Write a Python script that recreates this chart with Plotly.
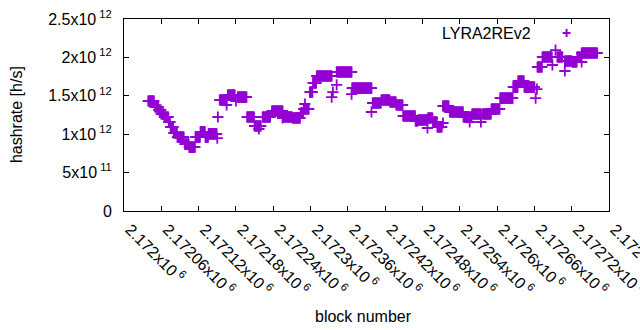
import numpy as np
import plotly.graph_objects as go

# Runs of consecutive blocks sharing the same estimated hashrate
run_start = [2172039, 2172050, 2172056, 2172060, 2172065, 2172072, 2172075, 2172080, 2172086, 2172098,
             2172105, 2172115, 2172123, 2172131, 2172136, 2172150, 2172151, 2172154, 2172165, 2172167,
             2172180, 2172183, 2172198, 2172210, 2172217, 2172223, 2172238, 2172255, 2172256, 2172271,
             2172284, 2172289, 2172291, 2172299, 2172304, 2172310, 2172336, 2172334, 2172342, 2172342,
             2172366, 2172367, 2172398, 2172400, 2172414, 2172428, 2172438, 2172449, 2172469, 2172473,
             2172488, 2172489, 2172497, 2172504, 2172513, 2172513, 2172524, 2172546, 2172556, 2172560,
             2172574, 2172577, 2172591, 2172605, 2172626, 2172634, 2172644, 2172662, 2172664, 2172665,
             2172673, 2172689, 2172694, 2172697, 2172709, 2172709, 2172721, 2172729, 2172736, 2172736,
             2172746]
run_end = [2172048, 2172055, 2172059, 2172064, 2172071, 2172074, 2172079, 2172085, 2172096, 2172104,
           2172114, 2172122, 2172130, 2172135, 2172149, 2172150, 2172151, 2172165, 2172165, 2172178,
           2172180, 2172197, 2172209, 2172220, 2172217, 2172235, 2172255, 2172255, 2172270, 2172283,
           2172288, 2172297, 2172291, 2172303, 2172309, 2172334, 2172336, 2172334, 2172342, 2172366,
           2172366, 2172398, 2172398, 2172413, 2172427, 2172437, 2172448, 2172468, 2172472, 2172488,
           2172488, 2172496, 2172503, 2172511, 2172513, 2172522, 2172545, 2172559, 2172556, 2172574,
           2172574, 2172590, 2172604, 2172625, 2172633, 2172643, 2172660, 2172662, 2172664, 2172672,
           2172688, 2172689, 2172694, 2172705, 2172709, 2172720, 2172728, 2172734, 2172736, 2172745,
           2172761]
run_value = [1.432, 1.354, 1.315, 1.263, 1.224, 1.159, 1.094, 1.016, 0.963, 0.872,
             0.833, 0.963, 1.029, 0.963, 1.003, 0.950, 1.224, 1.445, 1.380, 1.510,
             1.432, 1.484, 1.224, 1.107, 1.068, 1.224, 1.302, 1.211, 1.224, 1.211,
             1.276, 1.328, 1.393, 1.549, 1.667, 1.758, 1.549, 1.484, 1.641, 1.810,
             1.523, 1.601, 1.289, 1.406, 1.445, 1.419, 1.380, 1.237, 1.172, 1.185,
             1.081, 1.211, 1.159, 1.094, 1.146, 1.367, 1.289, 1.224, 1.159, 1.263,
             1.159, 1.263, 1.328, 1.471, 1.614, 1.693, 1.614, 1.471, 1.588, 1.875,
             2.005, 1.901, 2.096, 2.005, 1.823, 1.953, 1.940, 2.005, 1.940, 2.057,
             2.057]  # x10^12 h/s

x_tick_vals = [2172000, 2172060, 2172120, 2172180, 2172240, 2172300, 2172360,
               2172420, 2172480, 2172540, 2172600, 2172660, 2172720, 2172780]
x_tick_text = ["2.172x10<sup> 6</sup>", "2.17206x10<sup> 6</sup>", "2.17212x10<sup> 6</sup>",
               "2.17218x10<sup> 6</sup>", "2.17224x10<sup> 6</sup>", "2.1723x10<sup> 6</sup>",
               "2.17236x10<sup> 6</sup>", "2.17242x10<sup> 6</sup>", "2.17248x10<sup> 6</sup>",
               "2.17254x10<sup> 6</sup>", "2.1726x10<sup> 6</sup>", "2.17266x10<sup> 6</sup>",
               "2.17272x10<sup> 6</sup>", "2.17278x10<sup> 6</sup>"]
y_tick_vals = [0, 5e11, 1e12, 1.5e12, 2e12, 2.5e12]
y_tick_text = ["0", "5x10<sup> 11</sup>", "1x10<sup> 12</sup>", "1.5x10<sup> 12</sup>",
               "2x10<sup> 12</sup>", "2.5x10<sup> 12</sup>"]
series_name = "LYRA2REv2"

blocks = np.concatenate([np.arange(s, e + 1) for s, e in zip(run_start, run_end)])
rates = np.concatenate([np.full(e - s + 1, v * 1e12) for s, e, v in zip(run_start, run_end, run_value)])

COLOR = "#9400D3"
FONT = "Liberation Sans, Arial, sans-serif"

fig = go.Figure()
fig.add_trace(go.Scatter(
    x=blocks, y=rates, mode="markers", name=series_name, showlegend=False,
    marker=dict(symbol="cross-thin", size=8, line=dict(color=COLOR, width=1.8), color=COLOR),
))

axis_common = dict(showline=True, linecolor="black", linewidth=1, mirror="ticks",
                   ticks="inside", ticklen=5, tickwidth=1, tickcolor="black",
                   showgrid=False, zeroline=False, automargin=False,
                   tickfont=dict(family=FONT, size=16, color="black"))

fig.update_xaxes(range=[2172000, 2172780], tickmode="array", tickvals=x_tick_vals,
                 ticktext=x_tick_text, tickangle=45, ticklabelshift=6, ticklabelstandoff=2,
                 ticklabeloverflow="allow", **axis_common)
fig.update_yaxes(range=[0, 2.5e12], tickmode="array", tickvals=y_tick_vals,
                 ticktext=y_tick_text, ticklabelstandoff=8, **axis_common)

# legend key (gnuplot style: text then sample)
lx, ly = 0.9125, 0.927
dx, dy = 0.0082, 0.0208
fig.add_shape(type="line", xref="paper", yref="paper", x0=lx - dx, x1=lx + dx, y0=ly, y1=ly,
              line=dict(color=COLOR, width=2))
fig.add_shape(type="line", xref="paper", yref="paper", x0=lx, x1=lx, y0=ly - dy, y1=ly + dy,
              line=dict(color=COLOR, width=2))

fig.update_layout(
    template="none",
    width=640, height=330, autosize=False,
    margin=dict(l=124, r=31, t=19, b=119),
    paper_bgcolor="white", plot_bgcolor="white",
    font=dict(family=FONT, size=16, color="black"),
    annotations=[
        dict(text=series_name, xref="paper", yref="paper", x=0.8424, y=ly,
             xanchor="right", yanchor="middle", showarrow=False,
             font=dict(family=FONT, size=16, color="black")),
        dict(text="hashrate [h/s]", xref="paper", yref="paper", x=-0.2225, y=0.5,
             textangle=-90, xanchor="center", yanchor="middle", showarrow=False,
             font=dict(family=FONT, size=16, color="black")),
        dict(text="block number", xref="paper", yref="paper", x=0.4933, y=-0.547,
             xanchor="center", yanchor="middle", showarrow=False,
             font=dict(family=FONT, size=16, color="black")),
    ],
)

fig.write_html("out.html", config={"displayModeBar": False, "staticPlot": True},
               post_script="document.body.style.margin='0';document.body.style.padding='0';"
                           "document.body.style.overflow='hidden';")
